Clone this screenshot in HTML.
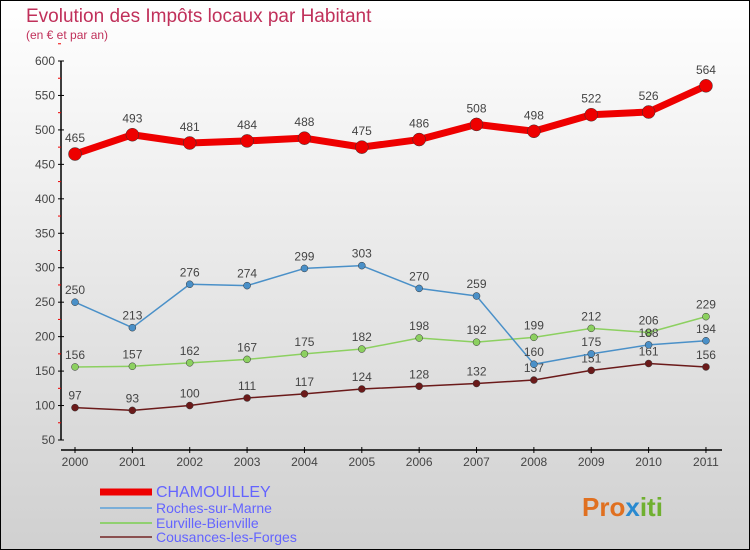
<!DOCTYPE html>
<html><head><meta charset="utf-8"><style>
body{margin:0}
svg{display:block;font-family:"Liberation Sans",sans-serif}
</style></head><body>
<svg id="c" width="750" height="550" xmlns="http://www.w3.org/2000/svg">
<defs><linearGradient id="bg" x1="0" y1="0" x2="0" y2="1"><stop offset="0" stop-color="#ffffff"/><stop offset="1" stop-color="#d0d0d0"/></linearGradient></defs>
<rect x="0.5" y="0.5" width="749" height="549" fill="url(#bg)" stroke="#000"/>
<text x="26" y="22" font-size="19" fill="#c0305a">Evolution des Impôts locaux par Habitant</text>
<text x="26" y="39" font-size="12" fill="#c0305a">(en € et par an)</text>
<g id="axes"></g>
<g id="series"></g>
<g id="legend"></g>
<text x="582" y="516" font-size="26" font-weight="bold" fill="#e07020">Pro<tspan fill="#2a8ad0">x</tspan><tspan fill="#70b030">iti</tspan></text>
</svg>
<script>
const years=["2000","2001","2002","2003","2004","2005","2006","2007","2008","2009","2010","2011"];
const yTicks=[50,100,150,200,250,300,350,400,450,500,550,600];
const chamouilley=[465,493,481,484,488,475,486,508,498,522,526,564];
const roches=[250,213,276,274,299,303,270,259,160,175,188,194];
const eurville=[156,157,162,167,175,182,198,192,199,212,206,229];
const cousances=[97,93,100,111,117,124,128,132,137,151,161,156];
const NS="http://www.w3.org/2000/svg";
const X=i=>75+i*57.36;
const Y=v=>440-(v-50)*379/550;
function mk(t,a,p){const e=document.createElementNS(NS,t);for(const k in a)e.setAttribute(k,a[k]);p.appendChild(e);return e;}
const ax=document.getElementById('axes');
const yl=mk('line',{x1:61,y1:Y(600),x2:61,y2:Y(50),stroke:'#000','stroke-width':1.5},ax);


const xl=mk('line',{x1:61,y1:450,x2:722,y2:450,stroke:'#000','stroke-width':1.5},ax);


yTicks.forEach(v=>{
  mk('line',{x1:58,x2:64,y1:Y(v),y2:Y(v),stroke:'#000'},ax);
  mk('line',{x1:58,x2:61,y1:Y(v+25),y2:Y(v+25),stroke:'#e00'},ax);
  const t=mk('text',{x:55,y:Y(v)+4,'text-anchor':'end','font-size':12,fill:'#444'},ax);
  t.textContent=v;
  
  
});
years.forEach((y,i)=>{
  mk('line',{x1:X(i),x2:X(i),y1:447,y2:453,stroke:'#000'},ax);
  const t=mk('text',{x:X(i),y:466,'text-anchor':'middle','font-size':12,fill:'#444'},ax);
  t.textContent=y;
  
  
});
const sg=document.getElementById('series');
function series(d,col,w,r,name,lblDy){
  const g=mk('g',{},sg);
  
  
  const p=mk('polyline',{points:d.map((v,i)=>X(i)+','+Y(v)).join(' '),fill:'none',stroke:col,'stroke-width':w,'stroke-linejoin':'round'},g);
  
  
  d.forEach((v,i)=>{
    const c=mk('circle',{cx:X(i),cy:Y(v),r:r,fill:col,stroke:'#333','stroke-width':0.5},g);
    
    
    const t=mk('text',{x:X(i),y:Y(v)+lblDy,'text-anchor':'middle','font-size':12,fill:'#444'},g);
    t.textContent=v;
    
    
  });
}
series(cousances,'#6b1a1a',1.5,3.5,'cousances',-8);
series(eurville,'#8cd060',1.5,3.5,'eurville',-8);
series(roches,'#4a90c8',1.5,3.5,'roches',-8);
series(chamouilley,'#ee0000',7,6.5,'chamouilley',-12);
const lg=document.getElementById('legend');
const items=[["CHAMOUILLEY","#ee0000",7],["Roches-sur-Marne","#7aaed8",2],["Eurville-Bienville","#90d070",2],["Cousances-les-Forges","#8a5050",2]];
items.forEach((it,k)=>{
  const y=[492,508,523,537][k];
  const l=mk('line',{x1:100,x2:152,y1:y,y2:y,stroke:it[1],'stroke-width':it[2]},lg);
  
  
  const t=mk('text',{x:156,y:y+5,'font-size':k==0?16:14,fill:'#6464ff'},lg);
  t.textContent=it[0];
  
  
});
</script>
</body></html>
